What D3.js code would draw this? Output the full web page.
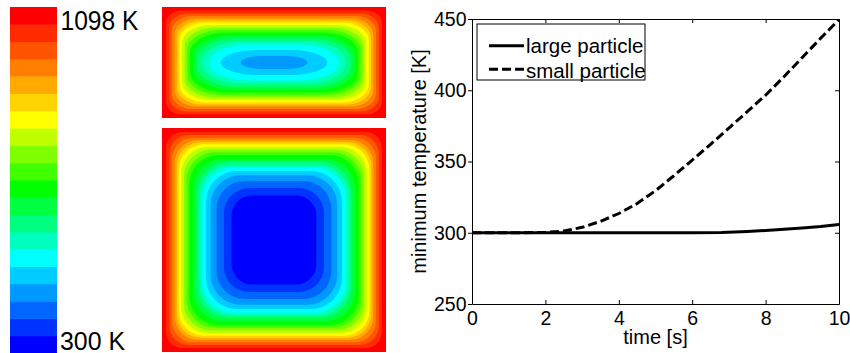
<!DOCTYPE html>
<html>
<head>
<meta charset="utf-8">
<script src="https://cdn.jsdelivr.net/npm/d3@7"></script>
<style>
  body { margin: 0; background: #fff; }
  svg { display: block; }
</style>
</head>
<body>
<script>
// colour levels: 0 = coldest (300 K) ... 19 = hottest (1098 K)
const levelColors = ["#0000ff", "#0033ff", "#0066ff", "#0099ff", "#00ccff", "#00ffff", "#00ffbf",
  "#00ff80", "#00ff40", "#00ff00", "#40ff00", "#80ff00", "#bfff00", "#ffff00", "#ffd400",
  "#ffaa00", "#ff8000", "#ff5500", "#ff2a00", "#ff0000"];
const barLabels = ["1098 K", "300 K"];

// contour rings, outermost first. insets and corner radii are fractions of the half width / half height
const squareLevels = [19, 18, 17, 16, 15, 14, 13, 12, 11, 10, 9, 8, 7, 6, 5, 4, 3, 2, 1, 0];
const squareInsetX = [0, .036, .065, .089, .113, .131, .149, .172, .196, .221, .244, .279, .31, .333, .357, .393, .435, .488, .554, .622];
const squareInsetY = [0, .036, .063, .087, .11, .128, .146, .17, .194, .217, .241, .274, .304, .328, .351, .384, .422, .473, .536, .603];
const squareRadius = [0, .143, .17, .188, .205, .214, .223, .232, .241, .25, .259, .268, .277, .277, .277, .277, .268, .25, .223, .179];

const slabLevels = [19, 18, 17, 16, 15, 14, 13, 12, 11, 10, 9, 8, 7, 6, 5, 4, 3];
const slabInsetX = [0, .036, .065, .089, .113, .134, .154, .179, .203, .226, .25, .279, .313, .357, .42, .524, .703];
const slabInsetY = [0, .063, .117, .162, .207, .243, .279, .324, .369, .414, .459, .514, .568, .622, .676, .775, .883];
const slabRadiusX = [0, .143, .161, .18, .2, .22, .24, .26, .28, .3, .32, .34, .35, .36, .36, .33, .18];
const slabRadiusY = [0, .23, .26, .28, .3, .31, .32, .33, .34, .35, .36, .37, .37, .36, .324, .225, .117];

// minimum temperature vs time
const timeLarge = [0, 2, 4, 6, 6.8, 7.5, 8, 8.5, 9, 9.5, 10];
const tempLarge = [300, 300, 300, 300, 300.1, 300.9, 301.6, 302.4, 303.3, 304.4, 305.8];
const timeSmall = [0, 1, 2, 2.5, 3, 3.5, 4, 4.5, 5, 5.5, 6, 6.5, 7, 7.5, 8, 8.5, 9, 9.5, 10];
const tempSmall = [300, 300, 300.2, 301.2, 303.8, 308, 313.5, 320.5, 329.5, 340, 351, 362, 373.5, 385, 396.5, 409.5, 423, 436.5, 449.5];
const xTicks = [0, 2, 4, 6, 8, 10];
const yTicks = [250, 300, 350, 400, 450];
const seriesNames = ["large particle", "small particle"];

const font = "'Liberation Sans', Arial, sans-serif";

const svg = d3.select("body")
    .append("svg")
    .attr("width", 850)
    .attr("height", 353);
svg.append("rect").attr("width", 850).attr("height", 353).attr("fill", "#fff");

// colour bar
const barY = d3.scaleBand()
    .domain(d3.range(levelColors.length).reverse())
    .range([7, 353]);
svg.append("g")
    .selectAll("rect")
    .data(d3.range(levelColors.length))
    .join("rect")
    .attr("x", 10)
    .attr("width", 47)
    .attr("y", d => barY(d))
    .attr("height", barY.bandwidth() + 0.5)
    .attr("fill", d => levelColors[d]);

svg.append("text")
    .attr("x", 60.5).attr("y", 30)
    .attr("font-family", font).attr("font-size", 27)
    .attr("textLength", 78).attr("lengthAdjust", "spacingAndGlyphs")
    .text(barLabels[0]);
svg.append("text")
    .attr("x", 60).attr("y", 349.5)
    .attr("font-family", font).attr("font-size", 25)
    .attr("textLength", 65).attr("lengthAdjust", "spacingAndGlyphs")
    .text(barLabels[1]);

// temperature fields, drawn as nested rounded contour bands
function drawParticle(box, levels, insetX, insetY, radX, radY) {
    const sx = d3.scaleLinear().domain([0, 1]).range([0, (box.x1 - box.x0) / 2]);
    const sy = d3.scaleLinear().domain([0, 1]).range([0, (box.y1 - box.y0) / 2]);
    const rings = levels.map((lv, i) => ({ lv, ix: insetX[i], iy: insetY[i], rx: radX[i], ry: radY[i] }));
    svg.append("g")
        .selectAll("rect")
        .data(rings)
        .join("rect")
        .attr("x", d => box.x0 + sx(d.ix))
        .attr("y", d => box.y0 + sy(d.iy))
        .attr("width", d => box.x1 - box.x0 - 2 * sx(d.ix))
        .attr("height", d => box.y1 - box.y0 - 2 * sy(d.iy))
        .attr("rx", d => sx(d.rx))
        .attr("ry", d => sy(d.ry))
        .attr("fill", d => levelColors[d.lv]);
}
drawParticle({ x0: 162, x1: 386, y0: 7, y1: 118 }, slabLevels, slabInsetX, slabInsetY, slabRadiusX, slabRadiusY);
drawParticle({ x0: 162, x1: 386, y0: 128, y1: 352 }, squareLevels, squareInsetX, squareInsetY, squareRadius, squareRadius);

// line chart
const margin = { top: 19, right: 11, bottom: 49, left: 472 };
const width = 850 - margin.left - margin.right;
const height = 353 - margin.top - margin.bottom;

const plot = svg.append("g")
    .attr("transform", `translate(${margin.left}, ${margin.top})`);

const xScale = d3.scaleLinear().domain([0, 10]).range([0, width]);
const yScale = d3.scaleLinear().domain([250, 450]).range([height, 0]);

const styleAxis = g => {
    g.attr("font-family", font).attr("font-size", 19.5);
    g.selectAll("path, line").attr("stroke", "#000");
    g.selectAll("text").attr("fill", "#000");
};

plot.append("g")
    .attr("transform", `translate(0, ${height})`)
    .call(d3.axisBottom(xScale).tickValues(xTicks).tickSizeInner(-4).tickSizeOuter(0).tickPadding(7))
    .call(styleAxis);
plot.append("g")
    .call(d3.axisLeft(yScale).tickValues(yTicks).tickSizeInner(4).tickSizeOuter(0).tickPadding(1.5))
    .call(styleAxis);
plot.append("g")
    .call(d3.axisTop(xScale).tickValues(xTicks).tickSizeInner(-4).tickSizeOuter(0).tickFormat(""))
    .call(styleAxis);
plot.append("g")
    .attr("transform", `translate(${width}, 0)`)
    .call(d3.axisRight(yScale).tickValues(yTicks).tickSizeInner(-4).tickSizeOuter(0).tickFormat(""))
    .call(styleAxis);

const line = d3.line()
    .x(d => xScale(d[0]))
    .y(d => yScale(d[1]));

plot.append("path")
    .datum(timeLarge.map((t, i) => [t, tempLarge[i]]))
    .attr("fill", "none")
    .attr("stroke", "#000")
    .attr("stroke-width", 3)
    .attr("d", line);
plot.append("path")
    .datum(timeSmall.map((t, i) => [t, tempSmall[i]]))
    .attr("fill", "none")
    .attr("stroke", "#000")
    .attr("stroke-width", 3)
    .attr("stroke-dasharray", "9,4")
    .attr("d", line);

// axis titles
plot.append("text")
    .attr("x", width / 2).attr("y", 325)
    .attr("text-anchor", "middle")
    .attr("font-family", font).attr("font-size", 20)
    .text("time [s]");
plot.append("text")
    .attr("transform", "rotate(-90)")
    .attr("x", -height / 2).attr("y", -46)
    .attr("text-anchor", "middle")
    .attr("font-family", font).attr("font-size", 20)
    .text("minimum temperature [K]");

// legend
const legend = plot.append("g").attr("transform", "translate(5, 5)");
legend.append("rect")
    .attr("width", 168).attr("height", 56)
    .attr("fill", "#fff").attr("stroke", "#000");
seriesNames.forEach((name, i) => {
    legend.append("line")
        .attr("x1", 12).attr("x2", 47)
        .attr("y1", 21.7 + i * 23.6).attr("y2", 21.7 + i * 23.6)
        .attr("stroke", "#000").attr("stroke-width", 3)
        .attr("stroke-dasharray", i ? "9,4" : null);
    legend.append("text")
        .attr("x", 49).attr("y", 28.7 + i * 25)
        .attr("font-family", font).attr("font-size", 20.5)
        .text(name);
});
</script>
</body>
</html>
